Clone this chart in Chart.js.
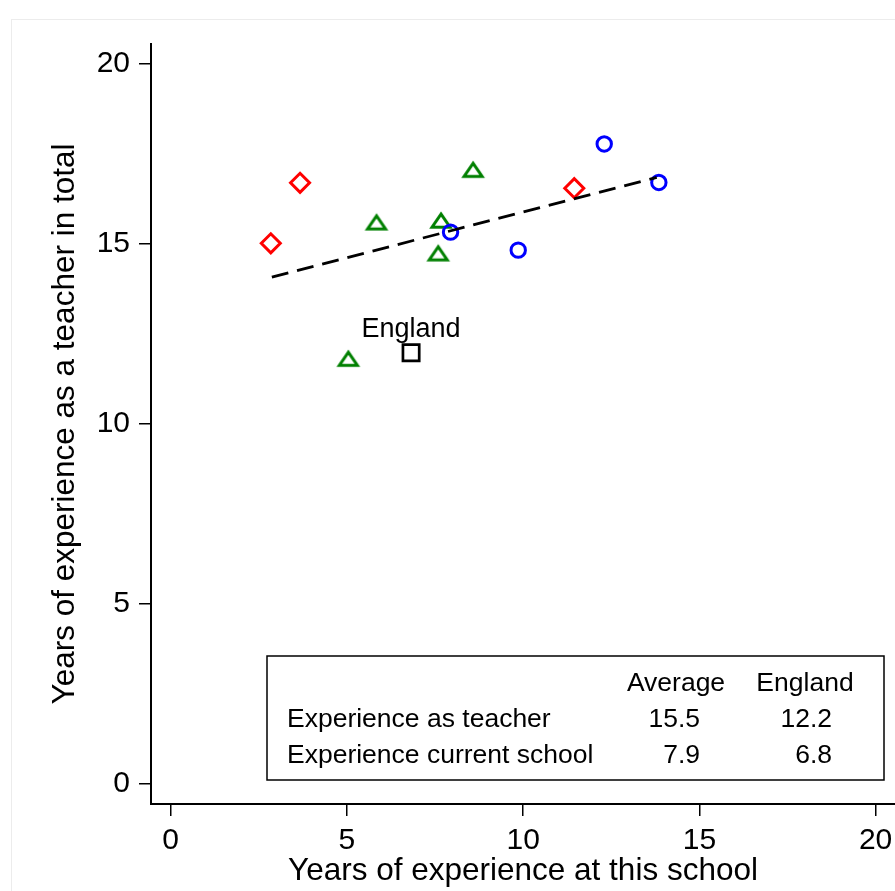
<!DOCTYPE html>
<html lang="en">
<head>
  <meta charset="UTF-8">
  <title>Teacher experience</title>
  <script src="https://cdn.jsdelivr.net/npm/chart.js"></script>
  <style>
    html, body { margin: 0; padding: 0; background: #fff; }
    #chart { display: block; }
  </style>
</head>
<body>
  <canvas id="chart" width="895" height="891"></canvas>

  <script>
    // [years at this school, years as teacher]
    const redSchools = [[2.84, 15.02], [3.67, 16.70], [11.45, 16.55]];
    const blueSchools = [[7.94, 15.33], [9.86, 14.83], [12.30, 17.78], [13.85, 16.71]];
    const greenSchools = [[5.04, 11.83], [5.84, 15.62], [7.59, 14.76], [7.67, 15.67], [8.58, 17.08]];
    const england = [[6.82, 11.98]];
    const fitLine = [[2.87, 14.08], [13.79, 16.85]];

    const xTicks = [0, 5, 10, 15, 20];
    const yTicks = [0, 5, 10, 15, 20];

    const tableHeader = ['Average', 'England'];
    const tableRows = ['Experience as teacher', 'Experience current school'];
    const tableAverage = ['15.5', '7.9'];
    const tableEngland = ['12.2', '6.8'];

    const FONT = '"Liberation Sans", Arial, sans-serif';

    function pts(arr) {
      return arr.map(p => ({ x: p[0], y: p[1] }));
    }

    // flattened triangle marker like the stata one
    function triangleMarker(color) {
      const c = document.createElement('canvas');
      c.width = 28; c.height = 22;
      const g = c.getContext('2d');
      g.strokeStyle = color;
      g.lineWidth = 3;
      g.lineJoin = 'miter';
      g.beginPath();
      g.moveTo(14, 5.2);
      g.lineTo(23, 18.2);
      g.lineTo(5, 18.2);
      g.closePath();
      g.stroke();
      return c;
    }

    const extras = {
      id: 'extras',
      beforeDraw(chart) {
        const ctx = chart.ctx;
        ctx.save();
        ctx.strokeStyle = '#ececec';
        ctx.lineWidth = 1;
        ctx.strokeRect(11.5, 19.5, 900, 900);
        ctx.restore();
      },
      afterDraw(chart) {
        const ctx = chart.ctx;
        const xs = chart.scales.x, ys = chart.scales.y;
        ctx.save();
        ctx.fillStyle = '#000';

        // label over the England marker
        ctx.font = '27px ' + FONT;
        ctx.textAlign = 'center';
        ctx.textBaseline = 'alphabetic';
        ctx.fillText('England', xs.getPixelForValue(england[0][0]), ys.getPixelForValue(england[0][1]) - 16);

        // summary table
        ctx.strokeStyle = '#000';
        ctx.lineWidth = 1.5;
        ctx.strokeRect(267, 656, 617, 124);
        ctx.font = '26.5px ' + FONT;
        ctx.textBaseline = 'middle';
        ctx.textAlign = 'center';
        ctx.fillText(tableHeader[0], 676, 684);
        ctx.fillText(tableHeader[1], 805, 684);
        tableRows.forEach((r, i) => {
          const y = 720 + i * 36;
          ctx.textAlign = 'left';
          ctx.fillText(r, 287, y);
          ctx.textAlign = 'right';
          ctx.fillText(tableAverage[i], 700, y);
          ctx.fillText(tableEngland[i], 832, y);
        });
        ctx.restore();
      }
    };

    const ctx = document.getElementById('chart').getContext('2d');
    new Chart(ctx, {
      type: 'scatter',
      data: {
        datasets: [
          {
            label: 'fit',
            type: 'line',
            data: pts(fitLine),
            borderColor: '#000',
            borderWidth: 2.8,
            borderDash: [17, 9],
            pointRadius: 0,
            fill: false,
            showLine: true
          },
          {
            label: 'red',
            data: pts(redSchools),
            pointStyle: 'rectRot',
            pointRadius: 9.5,
            borderColor: '#ff0000',
            backgroundColor: 'rgba(0,0,0,0)',
            borderWidth: 3
          },
          {
            label: 'blue',
            data: pts(blueSchools),
            pointStyle: 'circle',
            pointRadius: 7.2,
            borderColor: '#0000ff',
            backgroundColor: 'rgba(0,0,0,0)',
            borderWidth: 3
          },
          {
            label: 'green',
            data: pts(greenSchools),
            pointStyle: triangleMarker('#008000'),
            borderColor: '#008000'
          },
          {
            label: 'England',
            data: pts(england),
            pointStyle: 'rect',
            pointRadius: 11.5,
            borderColor: '#000',
            backgroundColor: 'rgba(0,0,0,0)',
            borderWidth: 2.7
          }
        ]
      },
      options: {
        responsive: false,
        animation: false,
        layout: { autoPadding: false, padding: { top: 44, left: 0, right: 0, bottom: 0 } },
        plugins: {
          legend: { display: false },
          tooltip: { enabled: false }
        },
        scales: {
          x: {
            type: 'linear',
            min: -0.559,
            max: 20.55,
            afterFit: s => { s.height = 87; s.paddingLeft = 0; s.paddingRight = 0; },
            afterBuildTicks: s => { s.ticks = xTicks.map(v => ({ value: v })); },
            ticks: {
              color: '#000',
              font: { family: FONT, size: 30 },
              padding: 7,
              maxRotation: 0
            },
            grid: {
              drawOnChartArea: false,
              drawTicks: true,
              tickLength: 12,
              color: '#000',
              lineWidth: 1.5
            },
            border: { display: true, color: '#000', width: 2 },
            title: {
              display: true,
              text: 'Years of experience at this school',
              color: '#000',
              font: { family: FONT, size: 31.5 },
              padding: { top: 0, bottom: 1 }
            }
          },
          y: {
            type: 'linear',
            min: -0.556,
            max: 20.556,
            afterFit: s => { s.width = 151; s.paddingTop = 0; s.paddingBottom = 0; },
            afterBuildTicks: s => { s.ticks = yTicks.map(v => ({ value: v })); },
            ticks: {
              color: '#000',
              font: { family: FONT, size: 30 },
              padding: 9
            },
            grid: {
              drawOnChartArea: false,
              drawTicks: true,
              tickLength: 12,
              color: '#000',
              lineWidth: 1.5
            },
            border: { display: true, color: '#000', width: 2 },
            title: {
              display: true,
              text: 'Years of experience as a teacher in total',
              color: '#000',
              font: { family: FONT, size: 31.5 },
              padding: { top: 46, bottom: 0 }
            }
          }
        }
      },
      plugins: [extras]
    });
  </script>
</body>
</html>
